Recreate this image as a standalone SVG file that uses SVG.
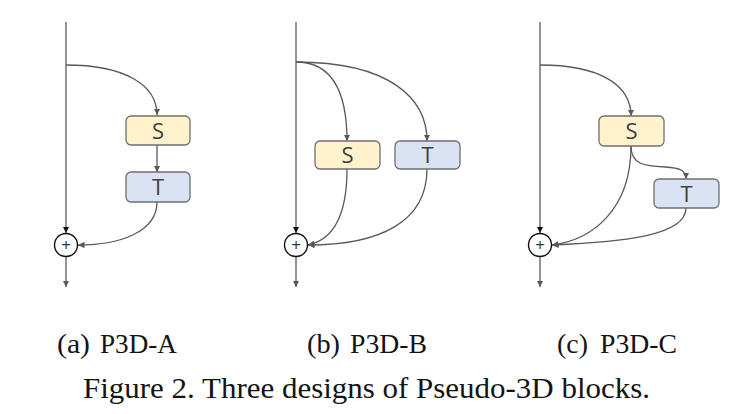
<svg xmlns="http://www.w3.org/2000/svg" width="754" height="414" viewBox="0 0 754 414">
<style>
.conn{fill:none;stroke:#595959;stroke-width:1.3}
.s{fill:#FFF2CC;stroke:#6F6F6F;stroke-width:1.3}
.t{fill:#DAE3F3;stroke:#6F6F6F;stroke-width:1.3}
.lbl{font-size:22px;fill:#404040;text-anchor:middle}
.sum{fill:#fff;stroke:#111;stroke-width:1.4}
.plus{font-size:17px;fill:#333;text-anchor:middle}
.cap{fill:#141414}
</style>
<defs>
<marker id="ah" viewBox="0 0 8 8" refX="8" refY="4" markerWidth="6.5" markerHeight="6.5" markerUnits="userSpaceOnUse" orient="auto">
<path d="M0,0 L8,4 L0,8 z" fill="#595959"/>
</marker>
<marker id="ahk" viewBox="0 0 8 8" refX="8" refY="4" markerWidth="6.5" markerHeight="6.5" markerUnits="userSpaceOnUse" orient="auto">
<path d="M0,0 L8,4 L0,8 z" fill="#111"/>
</marker>
</defs>
<g id="connectors">
<path class="conn" d="M66,22 L66,233" marker-end="url(#ahk)"/>
<path class="conn" d="M66,65 C125,65 157,85 157,115" marker-end="url(#ah)"/>
<path class="conn" d="M157,145 L157,172" marker-end="url(#ah)"/>
<path class="conn" d="M157,202 C157,232 120,245 78,245" marker-end="url(#ah)"/>
<path class="conn" d="M66,257 L66,287" marker-end="url(#ah)"/>
<path class="conn" d="M296,22 L296,233" marker-end="url(#ahk)"/>
<path class="conn" d="M296,62 C332,62 347,92 347,141" marker-end="url(#ah)"/>
<path class="conn" d="M296,62 C392,62 427,100 427,141" marker-end="url(#ah)"/>
<path class="conn" d="M347,169 C347,218 332,240 308,245" marker-end="url(#ah)"/>
<path class="conn" d="M427,169 C427,222 380,245 308,245" marker-end="url(#ah)"/>
<path class="conn" d="M296,257 L296,287" marker-end="url(#ah)"/>
<path class="conn" d="M540,22 L540,233" marker-end="url(#ahk)"/>
<path class="conn" d="M540,65 C600,65 631,85 631,116" marker-end="url(#ah)"/>
<path class="conn" d="M631,146 C631,165 645,166 665,167 C680,168 686,170 686,179" marker-end="url(#ah)"/>
<path class="conn" d="M631,146 C631,210 592,240 552,245" marker-end="url(#ah)"/>
<path class="conn" d="M686,208 C686,236 622,242 552,245" marker-end="url(#ah)"/>
<path class="conn" d="M540,257 L540,287" marker-end="url(#ah)"/>
</g>
<g font-family="'Open Sans', 'Noto Sans', sans-serif">
<g id="a-S"><rect class="s" x="126" y="116" width="64" height="29" rx="5"/><text class="lbl" x="158" y="138.5">S</text></g>
<g id="a-T"><rect class="t" x="126" y="172" width="64" height="30" rx="5"/><text class="lbl" x="158" y="195">T</text></g>
<g id="a-sum"><circle class="sum" cx="66" cy="245" r="11.5"/><text class="plus" x="66" y="251">+</text></g>
<g id="b-S"><rect class="s" x="315" y="141" width="65" height="28" rx="5"/><text class="lbl" x="347.5" y="163">S</text></g>
<g id="b-T"><rect class="t" x="395" y="141" width="65" height="28" rx="5"/><text class="lbl" x="427.5" y="163">T</text></g>
<g id="b-sum"><circle class="sum" cx="296" cy="245" r="11.5"/><text class="plus" x="296" y="251">+</text></g>
<g id="c-S"><rect class="s" x="599" y="116" width="65" height="30" rx="5"/><text class="lbl" x="631.5" y="139">S</text></g>
<g id="c-T"><rect class="t" x="654" y="179" width="65" height="29" rx="5"/><text class="lbl" x="686.5" y="201.5">T</text></g>
<g id="c-sum"><circle class="sum" cx="540" cy="245" r="11.5"/><text class="plus" x="540" y="251">+</text></g>
</g>
<g id="captions" font-family="'Liberation Serif', 'Times New Roman', serif">
<text class="cap" font-size="27" x="57" y="353" textLength="33" lengthAdjust="spacingAndGlyphs">(a)</text>
<text class="cap" font-size="27" x="100" y="353" textLength="77" lengthAdjust="spacingAndGlyphs">P3D-A</text>
<text class="cap" font-size="27" x="307" y="353" textLength="33" lengthAdjust="spacingAndGlyphs">(b)</text>
<text class="cap" font-size="27" x="350" y="353" textLength="77" lengthAdjust="spacingAndGlyphs">P3D-B</text>
<text class="cap" font-size="27" x="557" y="353" textLength="31" lengthAdjust="spacingAndGlyphs">(c)</text>
<text class="cap" font-size="27" x="600" y="353" textLength="77" lengthAdjust="spacingAndGlyphs">P3D-C</text>
<text class="cap" font-size="30" x="83" y="398" textLength="567" lengthAdjust="spacingAndGlyphs">Figure 2. Three designs of Pseudo-3D blocks.</text>
</g>
</svg>
